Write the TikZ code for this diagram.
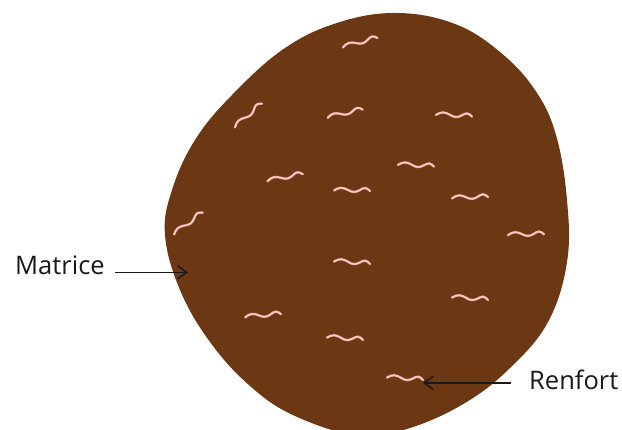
\documentclass[tikz,border=0pt]{standalone}
\usepackage{fontspec}
\setmainfont{Open Sans}
\usetikzlibrary{arrows.meta}

\definecolor{matrixbrown}{RGB}{108,56,19}
\definecolor{fibrepink}{RGB}{246,204,196}
\definecolor{fibreedge}{RGB}{212,150,138}

\begin{document}
\begin{tikzpicture}[x=1pt, y=-1pt,
  fibre/.style={draw=fibreedge, line width=0.45pt, double=fibrepink, double distance=1.5pt, line cap=round},
  lbl/.style={font=\fontsize{25.5}{30}\selectfont, text=black!90, inner sep=0pt, anchor=base west},
  arr/.style={-{Straight Barb[length=9pt, width=13pt]}, line width=1.5pt, draw=black!90},
  pics/fibre/.style={code={
    \draw[fibre] (-18,0.5) sin (-11,-2.2) cos (-4,0) sin (2,2) cos (8,0) sin (13,-2) cos (18,1);
    \coordinate (-east) at (18,1);
  }}
]
\useasboundingbox (0,0) rectangle (622,430);

\fill[matrixbrown] plot[smooth cycle, tension=0.65] coordinates {
  (398,13) (455,24) (500,52) (535,90) (556,135) (567,200) (567,262) (548,322)
  (510,368) (465,403) (410,428) (360,436) (295,416) (250,386) (210,342)
  (180,290) (165,235) (172,190) (195,140) (232,95) (285,48) (340,22)};

\foreach \px/\py/\ang [count=\i] in {360/42/16, 248/115/42, 345/113/14, 454/115/-2,
    416/165/-2, 285/177/12, 352/190/0, 470/197/3, 188/223/38, 526/234/2,
    352/262/-3, 470/298/-3, 263/315/6, 345/338/-3, 405/378/-3}
  \pic[rotate=\ang] (f\i) at (\px,\py) {fibre};

\node[lbl] (matrice) at (15,275) {Matrice};
\node[lbl] (renfort) at (529,390) {Renfort};
\coordinate (matrixpt) at (188,269);

\draw[arr] ([xshift=10pt]matrice.mid east) -- (matrice.mid east -| matrixpt);
\draw[arr] ([xshift=-18pt, yshift=-2.5pt]renfort.west) -- ([yshift=-2.5pt]renfort.west -| f15-east);

\end{tikzpicture}
\end{document}
